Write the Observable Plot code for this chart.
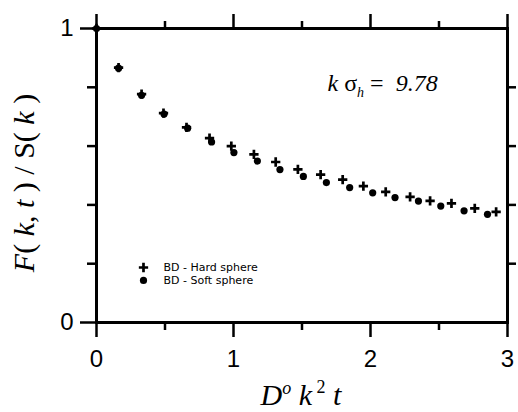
<!DOCTYPE html>
<html>
<head>
<meta charset="utf-8">
<script src="https://cdn.jsdelivr.net/npm/d3@7"></script>
<script src="https://cdn.jsdelivr.net/npm/@observablehq/plot@0.6"></script>
<style>
  html, body { margin: 0; padding: 0; background: #fff; }
  svg { display: block; }
</style>
</head>
<body>
<div id="chart"></div>
<script>
// Hard sphere (+) : D0 k^2 t, F(k,t)/S(k)
const hardX = [0, 0.161, 0.329, 0.489, 0.657, 0.825, 0.984, 1.149, 1.308, 1.470, 1.636, 1.797, 1.948, 2.111, 2.289, 2.435, 2.591, 2.761, 2.917];
const hardY = [1, 0.867, 0.777, 0.712, 0.664, 0.627, 0.600, 0.572, 0.546, 0.521, 0.503, 0.486, 0.464, 0.444, 0.427, 0.414, 0.405, 0.388, 0.376];
// Soft sphere (dots)
const softX = [0, 0.161, 0.329, 0.493, 0.665, 0.840, 1.003, 1.174, 1.339, 1.510, 1.678, 1.848, 2.016, 2.179, 2.350, 2.513, 2.683, 2.854];
const softY = [1, 0.865, 0.773, 0.709, 0.661, 0.614, 0.578, 0.549, 0.520, 0.497, 0.476, 0.459, 0.441, 0.425, 0.413, 0.396, 0.380, 0.368];

const xMajor = [0, 1, 2, 3];
const xMinor = [0.5, 1.5, 2.5];
const yMajor = [0, 1];
const yMinor = [0.2, 0.4, 0.6, 0.8];

const legendLabels = ["BD - Hard sphere", "BD - Soft sphere"];
const legendY = [0.187, 0.143];
const legendSymX = 0.343;
const legendTextX = 0.489;

const annotX = 1.69, annotY = 0.786;

const hard = hardX.map((x, i) => ({x, y: hardY[i]}));
const soft = softX.map((x, i) => ({x, y: softY[i]}));

const sans = "'Liberation Sans', Arial, Helvetica, sans-serif";
const serif = "'Liberation Serif', 'Times New Roman', Times, serif";

const svg = Plot.plot({
  width: 518,
  height: 412,
  marginLeft: 96,
  marginRight: 11,
  marginTop: 28,
  marginBottom: 90,
  style: {fontFamily: sans, background: "white", overflow: "visible"},
  x: {domain: [0, 3]},
  y: {domain: [0, 1]},
  marks: [
    Plot.axisX({anchor: "bottom", ticks: xMajor, tickSize: 15, tickPadding: 12, fontSize: 24, strokeWidth: 2.5, label: null, tickFormat: d3.format("d")}),
    Plot.axisX({anchor: "bottom", ticks: xMinor, tickSize: 8, strokeWidth: 2.5, label: null, tickFormat: () => ""}),
    Plot.axisX({anchor: "top", ticks: xMajor, tickSize: 15, strokeWidth: 2.5, label: null, tickFormat: () => ""}),
    Plot.axisX({anchor: "top", ticks: xMinor, tickSize: 8, strokeWidth: 2.5, label: null, tickFormat: () => ""}),
    Plot.axisY({anchor: "left", ticks: yMajor, tickSize: 16, tickPadding: 7, fontSize: 24, strokeWidth: 2.5, label: null, tickFormat: d3.format("d")}),
    Plot.axisY({anchor: "left", ticks: yMinor, tickSize: 9, strokeWidth: 2.5, label: null, tickFormat: () => ""}),
    Plot.axisY({anchor: "right", ticks: yMinor, tickSize: 8, strokeWidth: 2.5, label: null, tickFormat: () => ""}),
    Plot.frame({stroke: "black", strokeWidth: 3}),
    Plot.dot(soft, {x: "x", y: "y", r: 3.6, fill: "black", stroke: "none"}),
    Plot.dot(hard, {x: "x", y: "y", symbol: "plus", r: 3.1, stroke: "black", strokeWidth: 2.7}),
    Plot.dot([{x: legendSymX, y: legendY[0]}], {x: "x", y: "y", symbol: "plus", r: 3.1, stroke: "black", strokeWidth: 2.7}),
    Plot.dot([{x: legendSymX, y: legendY[1]}], {x: "x", y: "y", r: 3.6, fill: "black", stroke: "none"}),
    Plot.text(legendLabels, {x: () => legendTextX, y: (d, i) => legendY[i], text: d => d, textAnchor: "start", lineAnchor: "middle", fontSize: 11, fontFamily: "'DejaVu Sans', sans-serif", fill: "black"})
  ]
});

const s = d3.select(svg);

// y label
const yl = s.append("text")
  .attr("transform", "translate(34,183) rotate(-90)")
  .attr("text-anchor", "middle")
  .attr("font-family", serif)
  .attr("font-size", 30)
  .attr("fill", "black")
  .style("white-space", "pre");
[["F", "italic"], ["( ", "normal"], ["k", "italic"], [", ", "normal"], ["t", "italic"], [" ) / S( ", "normal"], ["k", "italic"], [" )", "normal"]]
  .forEach(([t, st]) => yl.append("tspan").attr("font-style", st).text(t));

// x label
const xl = s.append("text")
  .attr("x", 301).attr("y", 405)
  .attr("text-anchor", "middle")
  .attr("font-family", serif)
  .attr("font-size", 30)
  .attr("fill", "black")
  .style("white-space", "pre");
xl.append("tspan").attr("font-style", "italic").text("D");
xl.append("tspan").attr("font-style", "italic").attr("font-size", 18).attr("dy", -11).text("o");
xl.append("tspan").attr("font-style", "italic").attr("dy", 11).text(" k");
xl.append("tspan").attr("font-size", 18).attr("dy", -12).text(" 2");
xl.append("tspan").attr("font-style", "italic").attr("dy", 12).text(" t");

// annotation
const px = Plot.scale({x: {domain: [0, 3], range: [96, 507]}});
const py = Plot.scale({y: {domain: [0, 1], range: [322, 28]}});
const an = s.append("text")
  .attr("x", px.apply(annotX)).attr("y", py.apply(annotY))
  .attr("text-anchor", "start")
  .attr("font-family", serif)
  .attr("font-size", 24)
  .attr("fill", "black")
  .style("white-space", "pre");
an.append("tspan").attr("font-style", "italic").text("k ");
an.append("tspan").text("σ");
an.append("tspan").attr("font-style", "italic").attr("font-size", 14).attr("dy", 6).text("h");
an.append("tspan").attr("dy", -6).text(" =  ");
an.append("tspan").attr("font-style", "italic").text("9.78");

document.getElementById("chart").appendChild(svg);
</script>
</body>
</html>
